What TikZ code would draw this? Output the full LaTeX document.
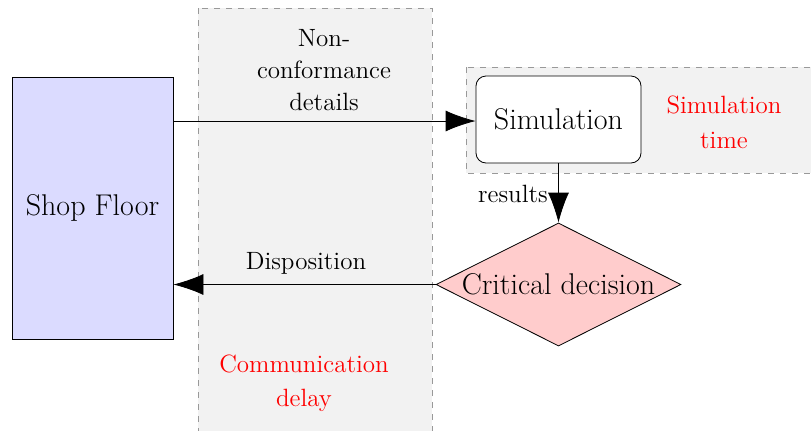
\documentclass[tikz,border=0pt]{standalone}
\usetikzlibrary{shapes.geometric,arrows.meta}
\begin{document}
\begin{tikzpicture}[x=0.5pt,y=-0.5pt,
  region/.style={fill=gray!10,draw=gray!80,dashed},
  arr/.style={-{Latex[length=15pt,width=10.5pt]}},
  lbl/.style={font=\fontsize{12.5}{15}\selectfont,inner sep=0pt},
  redlbl/.style={font=\fontsize{12.5}{15}\selectfont,text=red,align=center,inner sep=0pt},
  bignode/.style={draw,font=\fontsize{15}{18}\selectfont,inner sep=0pt}]
\clip (0,0) rectangle (811,430);
\draw[region] (198,8) rectangle (432,445);
\draw[region] (466,67) rectangle (820,173);
\node[bignode,fill=blue!14,minimum width=80.5pt,minimum height=131pt] (shop) at (92.5,208) {Shop Floor};
\node[bignode,fill=white,rounded corners=5pt,minimum width=82.5pt,minimum height=43.5pt] (sim) at (558.5,119.5) {Simulation};
\node[bignode,diamond,aspect=2,fill=red!20,inner sep=0pt,minimum width=122.5pt,minimum height=61.5pt] (dec) at (558.5,284.5) {Critical decision};
\draw[arr] (shop.east |- 0,121) -- (sim.west |- 0,121);
\draw[arr] (sim.south) -- (dec.north);
\draw[arr] (dec.west) -- (dec.west -| shop.east);
\node[lbl,align=center] (nc) at (324,70) {Non-\\[1pt]conformance\\[1pt]details};
\node[lbl] (res) at (513,194) {results};
\node[lbl] (disp) at (306,263) {Disposition};
\node[redlbl] (simt) at (724,122) {Simulation\\[2.5pt]time};
\node[redlbl] (comm) at (304,383) {Communication\\[2pt]delay};
\end{tikzpicture}
\end{document}
